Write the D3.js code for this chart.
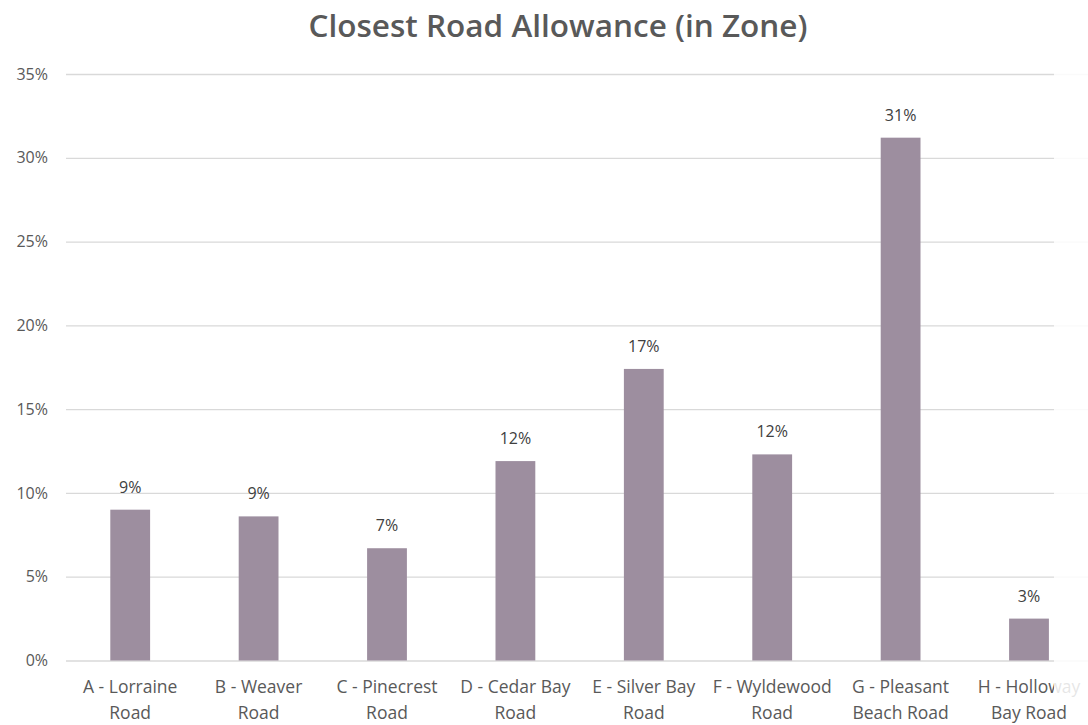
<!DOCTYPE html>
<html>
<head>
<meta charset="utf-8">
<script src="https://cdn.jsdelivr.net/npm/d3@7"></script>
<style>
  body { margin: 0; background: #fff; }
  svg { display: block; }
</style>
</head>
<body>
<svg id="chart" width="1088" height="725"></svg>
<script>
// chart data
var categories = [
  ["A - Lorraine", "Road"],
  ["B - Weaver", "Road"],
  ["C - Pinecrest", "Road"],
  ["D - Cedar Bay", "Road"],
  ["E - Silver Bay", "Road"],
  ["F - Wyldewood", "Road"],
  ["G - Pleasant", "Beach Road"],
  ["H - Holloway", "Bay Road"]
];
var values = [0.090, 0.086, 0.067, 0.119, 0.174, 0.123, 0.312, 0.025];
var yTicks = [0, 0.05, 0.10, 0.15, 0.20, 0.25, 0.30, 0.35];
var title = "Closest Road Allowance (in Zone)";

var svg = d3.select("#chart");
var W = 1088, H = 725;
var plotLeft = 66, plotTop = 74, plotBottom = 660.5, plotRight = 1054;
var step = 128.4;

var x = d3.scaleBand()
  .domain(d3.range(categories.length))
  .range([plotLeft, plotLeft + step * categories.length])
  .paddingInner(0.69)
  .paddingOuter(0.345);

var y = d3.scaleLinear().domain([0, 0.35]).range([plotBottom, plotTop]);

// title
svg.append("text")
  .attr("x", 558)
  .attr("y", 37)
  .attr("text-anchor", "middle")
  .attr("font-family", "Open Sans, sans-serif")
  .attr("font-weight", 600)
  .attr("font-size", 31.5)
  .attr("fill", "#595959")
  .text(title);

// gridlines + y labels (lines run to the edge, the right strip fades them)
var yAxis = d3.axisLeft(y)
  .tickValues(yTicks)
  .tickSize(-(W - plotLeft))
  .tickPadding(18)
  .tickFormat(d3.format(".0%"));

var gy = svg.append("g")
  .attr("transform", "translate(" + plotLeft + ",0)")
  .call(yAxis);
gy.select(".domain").remove();
gy.selectAll(".tick line").attr("stroke", "#d9d9d9").attr("stroke-width", 1.3);
gy.selectAll(".tick text")
  .attr("font-family", "Open Sans, sans-serif")
  .attr("font-size", 16)
  .attr("fill", "#595959");

// bars
svg.append("g").selectAll("rect")
  .data(values)
  .enter().append("rect")
  .attr("x", function(d, i) { return x(i); })
  .attr("y", function(d) { return y(d); })
  .attr("width", x.bandwidth())
  .attr("height", function(d) { return plotBottom - y(d); })
  .attr("fill", "#9d8e9f");

// data labels
svg.append("g").selectAll("text")
  .data(values)
  .enter().append("text")
  .attr("x", function(d, i) { return x(i) + x.bandwidth() / 2; })
  .attr("y", function(d) { return y(d) - 17; })
  .attr("text-anchor", "middle")
  .attr("font-family", "Open Sans, sans-serif")
  .attr("font-size", 16)
  .attr("fill", "#404040")
  .text(function(d) { return Math.round(d * 100) + "%"; });

// faded strip on the right edge (as in the source screenshot)
svg.append("rect")
  .attr("x", plotRight)
  .attr("y", 0)
  .attr("width", W - plotRight)
  .attr("height", 699)
  .attr("fill", "#fff")
  .attr("opacity", 0.85);

// category labels (two lines); first line drawn under the strip
var gx = svg.append("g");
categories.forEach(function(c, i) {
  var cx = x(i) + x.bandwidth() / 2;
  c.forEach(function(line, j) {
    gx.append("text")
      .attr("x", cx)
      .attr("y", 693 + j * 26)
      .attr("text-anchor", "middle")
      .attr("font-family", "Open Sans, sans-serif")
      .attr("font-size", 17.5)
      .attr("fill", "#595959")
      .text(line);
  });
});
gx.lower();
</script>
</body>
</html>
